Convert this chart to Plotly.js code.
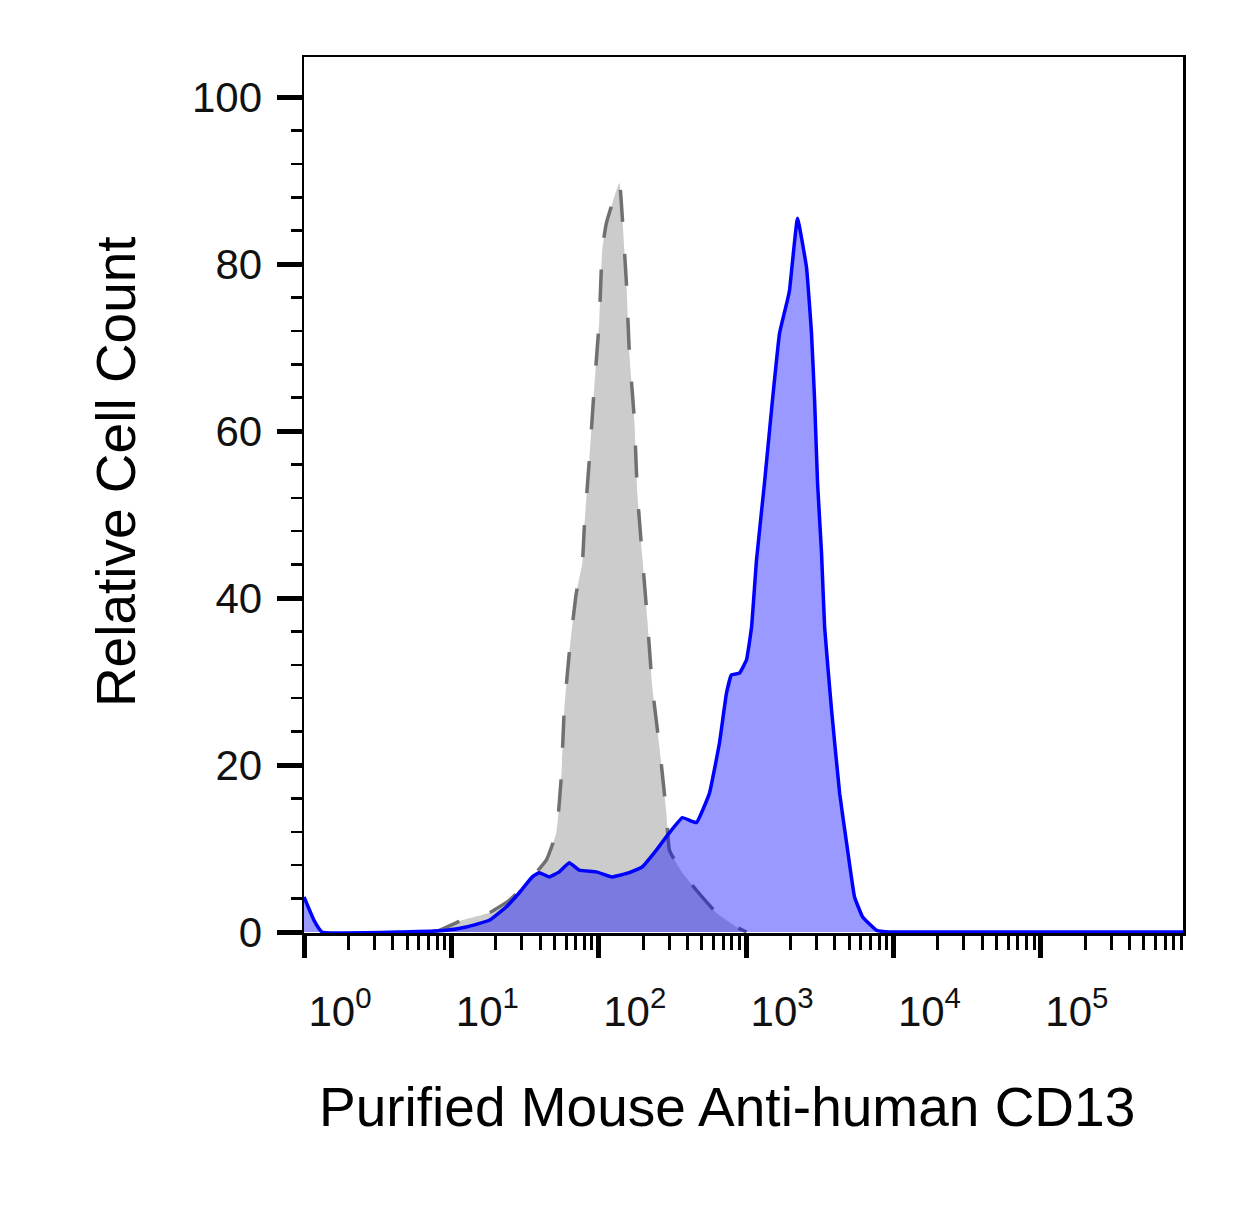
<!DOCTYPE html>
<html>
<head>
<meta charset="utf-8">
<script src="https://cdn.plot.ly/plotly-3.0.1.min.js"></script>
<style>
  html, body { margin: 0; padding: 0; background: #fff; }
  #chart { width: 1245px; height: 1223px; }
</style>
</head>
<body>
<div id="chart"></div>
<script>
// histogram outlines
// positions are log10 of fluorescence intensity, counts are relative (%)
const isotypeLog = [0.85, 0.917, 1.073, 1.257, 1.393, 1.529, 1.644, 1.712, 1.746, 1.766, 1.800, 1.848, 1.889, 1.902,
    1.936, 1.970, 2.004, 2.024, 2.052, 2.140, 2.160, 2.188, 2.208, 2.242, 2.262, 2.296, 2.330, 2.364, 2.412,
    2.459, 2.480, 2.568, 2.663, 2.799, 2.935, 3.003];
const isotypeCount = [0, 0.2, 1.4, 2.3, 3.8, 6.2, 8.6, 11.9, 18.6, 26.6, 33.4, 40.6, 44.2, 48.5,
    56.5, 65.3, 73.3, 81.7, 84.9, 89.7, 85.6, 77.7, 69.3, 61.3, 52.6, 44.9, 37.4, 29.3, 22.2,
    14.3, 9.8, 7.1, 5.0, 2.3, 0.6, 0];

const cd13Log = [0, 0.068, 0.122, 0.666, 0.965, 1.101, 1.257, 1.372, 1.461, 1.549, 1.596, 1.664, 1.732, 1.800,
    1.868, 1.984, 2.092, 2.208, 2.296, 2.391, 2.480, 2.568, 2.663, 2.751, 2.819, 2.867, 2.901, 2.955,
    3.003, 3.037, 3.071, 3.125, 3.179, 3.227, 3.281, 3.295, 3.349, 3.410, 3.444, 3.465, 3.485, 3.512,
    3.533, 3.580, 3.635, 3.689, 3.736, 3.791, 3.886, 3.974, 5.965];
const cd13Count = [4.2, 1.4, 0, 0, 0.2, 0.6, 1.4, 3.0, 4.7, 6.6, 7.1, 6.6, 7.2, 8.3,
    7.4, 7.2, 6.6, 7.1, 7.8, 9.8, 11.9, 13.7, 13.1, 16.6, 22.6, 28.6, 30.8, 31.0,
    32.6, 36.5, 44.6, 53.8, 63.7, 71.7, 75.7, 76.9, 85.5, 79.6, 71.7, 63.7, 53.8, 45.4,
    36.5, 26.6, 16.6, 9.8, 4.2, 1.8, 0.2, 0, 0];

// axis ticks
const decadeVals = [1, 10, 100, 1000, 10000, 100000];
const decadeText = ['10<sup>0</sup>', '10<sup>1</sup>', '10<sup>2</sup>', '10<sup>3</sup>', '10<sup>4</sup>', '10<sup>5</sup>'];
const countVals = [0, 20, 40, 60, 80, 100];

const xTitle = 'Purified Mouse Anti-human CD13';
const yTitle = 'Relative Cell Count';

const toLinear = arr => arr.map(v => Math.pow(10, v));

// minor ticks: 2..9 inside each decade, every 4 on the count axis
const xMinor = [];
for (let d = 0; d <= 5; d++) {
    for (let k = 2; k <= 9; k++) xMinor.push(k * Math.pow(10, d));
}
const yMinor = [];
for (let v = 4; v < 104; v += 4) {
    if (v % 20 !== 0) yMinor.push(v);
}

const FONT = 'Arial, "Liberation Sans", sans-serif';

const traces = [
    // --- isotype control (grey, dashed) ---
    {
        x: toLinear(isotypeLog), y: isotypeCount,
        type: 'scatter', mode: 'lines',
        fill: 'tozeroy', fillcolor: '#cccccc',
        line: { color: '#707070', width: 3.5, dash: '32px,32px', shape: 'spline', smoothing: 0.4 },
        hoverinfo: 'skip'
    },
    // --- CD13 stained (blue) ---
    {
        x: toLinear(cd13Log), y: cd13Count,
        type: 'scatter', mode: 'lines',
        fill: 'tozeroy', fillcolor: 'rgba(0, 0, 255, 0.4)',
        line: { color: '#0000ff', width: 3.5, shape: 'spline', smoothing: 0.3 },
        hoverinfo: 'skip'
    }
];

const layout = {
    width: 1245, height: 1223,
    margin: { l: 304, r: 62, t: 57, b: 290 },
    paper_bgcolor: '#ffffff', plot_bgcolor: '#ffffff',
    showlegend: false,
    font: { family: FONT, color: '#000' },

    xaxis: {
        type: 'log', range: [0, 5.965],
        showgrid: false, zeroline: false,
        showline: true, linecolor: '#000', linewidth: 2.5, mirror: true,
        ticks: 'outside', tickvals: decadeVals, ticktext: decadeText,
        ticklen: 22, tickwidth: 5, tickcolor: '#000',
        ticklabelshift: 36, ticklabelstandoff: 18,
        tickfont: { family: FONT, size: 42, color: '#111' },
        minor: { tickvals: xMinor, ticks: 'outside', ticklen: 14, tickwidth: 3, tickcolor: '#000', showgrid: false }
    },

    yaxis: {
        range: [-0.12, 104.8],
        showgrid: false, zeroline: false,
        showline: true, linecolor: '#000', linewidth: 2.5, mirror: true,
        ticks: 'outside', tickvals: countVals,
        ticklen: 25, tickwidth: 5, tickcolor: '#000',
        ticklabelstandoff: 6,
        tickfont: { family: FONT, size: 42, color: '#111' },
        minor: { tickvals: yMinor, ticks: 'outside', ticklen: 11, tickwidth: 2.5, tickcolor: '#000', showgrid: false }
    },

    // axis titles sit a little off-centre in the original, so they are placed by hand
    annotations: [
        {
            text: xTitle, showarrow: false,
            xref: 'paper', yref: 'paper', x: 0.481, y: -0.199,
            xanchor: 'center', yanchor: 'middle',
            font: { family: FONT, size: 55, color: '#000' }
        },
        {
            text: yTitle, showarrow: false, textangle: -90,
            xref: 'paper', yref: 'paper', x: -0.213, y: 0.527,
            xanchor: 'center', yanchor: 'middle',
            font: { family: FONT, size: 55, color: '#000' }
        }
    ]
};

Plotly.newPlot('chart', traces, layout, { displayModeBar: false, staticPlot: true });
</script>
</body>
</html>
